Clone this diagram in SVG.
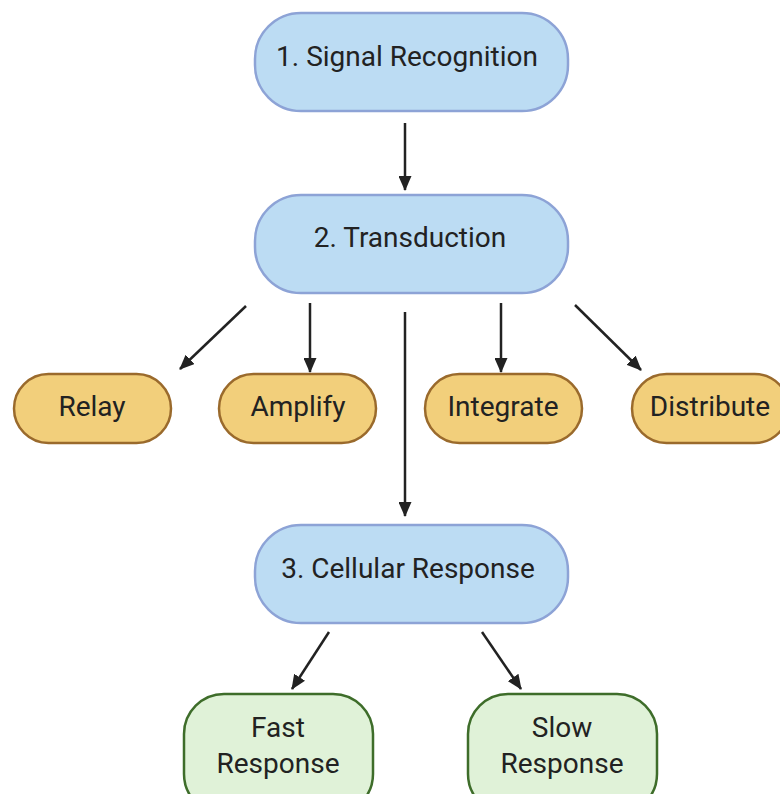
<svg xmlns="http://www.w3.org/2000/svg" width="780" height="794" viewBox="0 0 780 794">
  <defs>
    <marker id="arrow" viewBox="0 0 15 13" refX="14" refY="6.5" markerWidth="15" markerHeight="13" markerUnits="userSpaceOnUse" orient="auto">
      <path d="M0,0 L15,6.5 L0,13 Z" fill="#222"/>
    </marker>
    <style>
      .step rect { fill: #bcdcf3; stroke: #8da3d6; stroke-width: 2.5; }
      .role rect { fill: #f2cf7b; stroke: #9a6a2c; stroke-width: 2.5; }
      .out rect { fill: #e0f2d8; stroke: #3e6d2a; stroke-width: 2.5; }
      text { font-family: Roboto, "Liberation Sans", sans-serif; font-size: 28px; fill: #222; text-anchor: middle; }
      .edges line { stroke: #222; stroke-width: 2.5; marker-end: url(#arrow); }
    </style>
  </defs>
  <rect width="780" height="794" fill="#fff"/>

  <g class="edges">
    <line x1="405" y1="123" x2="405" y2="190"/>
    <line x1="246" y1="306" x2="180" y2="369"/>
    <line x1="310" y1="303" x2="310" y2="372"/>
    <line x1="405" y1="312" x2="405" y2="516"/>
    <line x1="501" y1="303" x2="501" y2="372"/>
    <line x1="575" y1="305" x2="641" y2="370"/>
    <line x1="329" y1="632" x2="292" y2="689"/>
    <line x1="482" y1="632" x2="521" y2="689"/>
  </g>

  <g id="signal-recognition" class="step">
    <rect x="255" y="13" width="313" height="98" rx="46"/>
    <text x="407" y="66">1. Signal Recognition</text>
  </g>
  <g id="transduction" class="step">
    <rect x="255" y="195" width="313" height="98" rx="46"/>
    <text x="410" y="247">2. Transduction</text>
  </g>
  <g id="cellular-response" class="step">
    <rect x="255" y="525" width="313" height="98" rx="46"/>
    <text x="408" y="578">3. Cellular Response</text>
  </g>

  <g id="relay" class="role">
    <rect x="14" y="374" width="157" height="69" rx="34.5"/>
    <text x="92" y="416">Relay</text>
  </g>
  <g id="amplify" class="role">
    <rect x="219" y="374" width="157" height="69" rx="34.5"/>
    <text x="298" y="416">Amplify</text>
  </g>
  <g id="integrate" class="role">
    <rect x="425" y="374" width="157" height="69" rx="34.5"/>
    <text x="503" y="416">Integrate</text>
  </g>
  <g id="distribute" class="role">
    <rect x="632" y="374" width="157" height="69" rx="34.5"/>
    <text x="710" y="416">Distribute</text>
  </g>

  <g id="fast-response" class="out">
    <rect x="184" y="694" width="189" height="120" rx="40"/>
    <text x="278" y="737">Fast</text>
    <text x="278" y="773">Response</text>
  </g>
  <g id="slow-response" class="out">
    <rect x="468" y="694" width="189" height="120" rx="40"/>
    <text x="562" y="737">Slow</text>
    <text x="562" y="773">Response</text>
  </g>
</svg>
